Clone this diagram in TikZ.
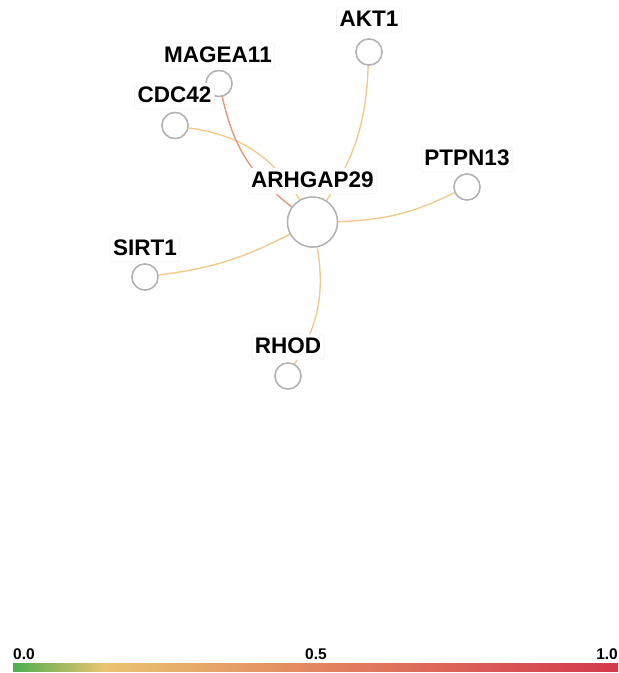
\documentclass[tikz,border=0pt]{standalone}
\usepackage{fontspec}
\setmainfont{Liberation Sans}
\definecolor{cg}{RGB}{76,174,79}
\definecolor{cy}{RGB}{234,196,112}
\definecolor{co}{RGB}{226,134,96}
\definecolor{cr}{RGB}{212,56,76}
\definecolor{edgey}{RGB}{242,202,142}
\definecolor{edges}{RGB}{232,150,120}
\definecolor{ring}{RGB}{178,178,178}
\pgfdeclarehorizontalshading{cbar}{100bp}{color(0bp)=(cg); color(25bp)=(cg); color(32.5bp)=(cy); color(50bp)=(co); color(75bp)=(cr); color(100bp)=(cr)}
\begin{document}
\begin{tikzpicture}[x=1pt,y=1pt,
  gene/.style={circle,draw=ring,line width=1.4pt,fill=white,minimum size=26pt,inner sep=0pt},
  hub/.style={gene,minimum size=50pt},
  lbl/.style={draw=black!7,fill=white,rounded corners=3pt,font=\bfseries\fontsize{22.5}{22.5}\selectfont,inner sep=3pt,text height=16pt,text depth=4pt,anchor=base},
  link/.style={draw=edgey,line width=1.4pt},
  bar/.style={font=\bfseries\fontsize{15.5}{15.5}\selectfont,inner sep=0pt,anchor=base}]
\useasboundingbox (0,0) rectangle (619,-673);
\node[hub] (A) at (312.5,-222) {};
\node[gene] (akt) at (369,-52) {};
\node[gene] (mag) at (219,-83.5) {};
\node[gene] (cdc) at (175,-125.5) {};
\node[gene] (ptp) at (467,-187) {};
\node[gene] (sir) at (145,-277) {};
\node[gene] (rho) at (288,-376) {};
\draw[link] (A) to[bend right=15] (akt);
\draw[link] (A) to[bend right=25] (cdc);
\draw[link,draw=edges] (A) to[bend left=20] (mag);
\draw[link] (A) to[bend right=12] (ptp);
\draw[link] (A) to[bend left=10] (sir);
\draw[link] (A) to[bend left=20] (rho);
\node[hub] at (A) {};
\foreach \n in {akt,mag,cdc,ptp,sir,rho} \node[gene] at (\n) {};
\node[lbl] (lA) at (312.5,-187) {ARHGAP29};
\node[lbl] (lakt) at (369,-26) {AKT1};
\node[lbl] (lmag) at (218,-62) {MAGEA11};
\node[lbl] (lcdc) at (174.5,-102) {CDC42};
\node[lbl] (lptp) at (467,-165) {PTPN13};
\node[lbl] (lsir) at (145,-255) {SIRT1};
\node[lbl] (lrho) at (288,-353) {RHOD};
\shade[shading=cbar] (13,-663) rectangle (618,-671);
\node[bar,anchor=base west] (b0) at (13,-659) {0.0};
\node[bar] (b5) at (316,-659) {0.5};
\node[bar,anchor=base east] (b1) at (618,-659) {1.0};
\end{tikzpicture}
\end{document}
